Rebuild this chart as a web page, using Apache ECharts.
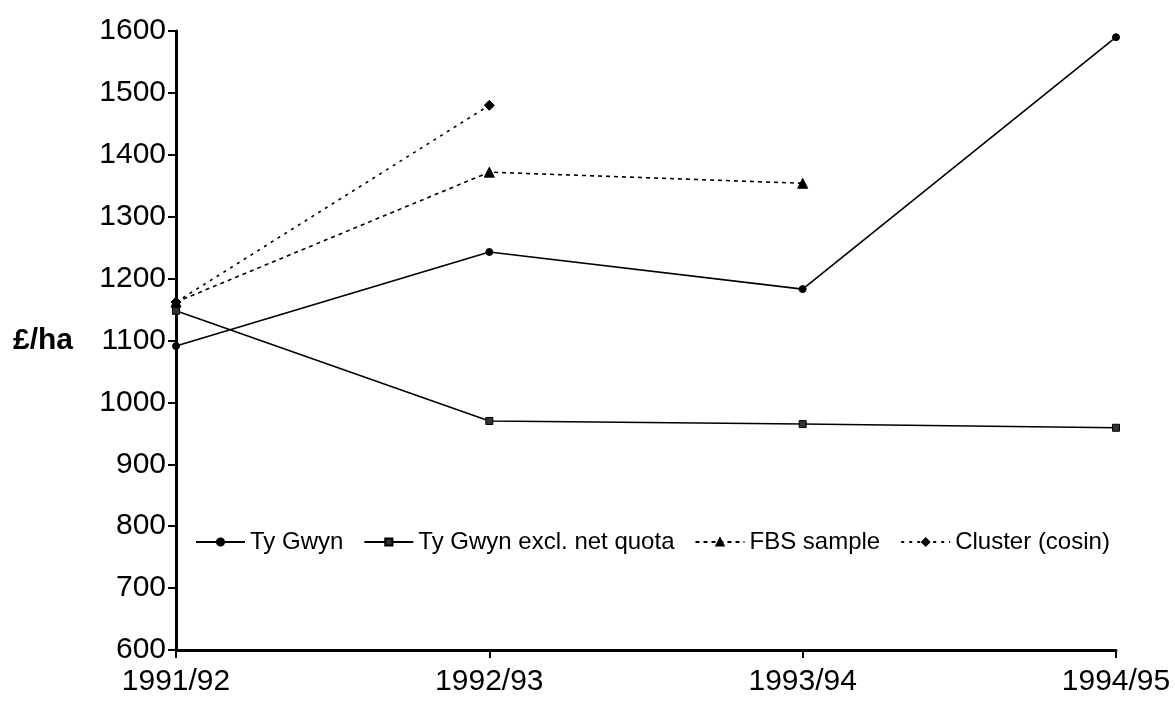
<!DOCTYPE html>
<html>
<head>
<meta charset="utf-8">
<script src="https://cdn.jsdelivr.net/npm/echarts@6/dist/echarts.min.js"></script>
<style>html,body{margin:0;padding:0;background:#fff}#c{width:1175px;height:708px}</style>
</head>
<body>
<div id="c"></div>
<script>
var categories = ['1991/92', '1992/93', '1993/94', '1994/95'];
var tyGwyn = [1091, 1243, 1183, 1590];
var tyGwynExcl = [1148, 970, 965, 959];
var fbsSample = [1162, 1372, 1354, null];
var cluster = [1162, 1480, null, null];
var seriesNames = ['Ty Gwyn', 'Ty Gwyn excl. net quota', 'FBS sample', 'Cluster (cosin)'];
var yAxisName = '£/ha';

var font = 'Liberation Sans, Arial, sans-serif';
var chart = echarts.init(document.getElementById('c'));
function mk(name, data, symbol, size, dash, fill) {
  return {
    name: name, type: 'line', data: data, symbol: symbol, symbolSize: size,
    showSymbol: true, connectNulls: false,
    lineStyle: { color: '#000', width: 1.6, type: dash },
    itemStyle: { color: fill || '#000', borderColor: '#000', borderWidth: 1 },
    emphasis: { disabled: true }
  };
}
chart.setOption({
  animation: false,
  backgroundColor: '#fff',
  grid: { left: 176, right: 59, top: 31, bottom: 58, containLabel: false },
  legend: {
    left: 190, top: 525, itemWidth: 49, itemHeight: 9, itemGap: 20,
    textStyle: { fontFamily: font, fontSize: 24, color: '#000' },
    data: seriesNames
  },
  xAxis: {
    type: 'category', data: categories, boundaryGap: false,
    axisLine: { lineStyle: { color: '#000', width: 3 } },
    axisTick: { show: true, alignWithLabel: true, length: 8, lineStyle: { color: '#000', width: 2 } },
    axisLabel: { color: '#000', fontFamily: font, fontSize: 30, margin: 17 },
    splitLine: { show: false }
  },
  yAxis: {
    type: 'value', min: 600, max: 1600, interval: 100,
    name: yAxisName, nameLocation: 'middle', nameRotate: 0, nameGap: 103,
    nameTextStyle: { color: '#000', fontFamily: font, fontSize: 30, fontWeight: 'bold', align: 'right', verticalAlign: 'middle' },
    axisLine: { show: true, lineStyle: { color: '#000', width: 3 } },
    axisTick: { show: true, length: 8, lineStyle: { color: '#000', width: 2 } },
    axisLabel: { color: '#000', fontFamily: font, fontSize: 30, margin: 10, formatter: function (v) { return String(v); } },
    splitLine: { show: false }
  },
  series: [
    mk(seriesNames[0], tyGwyn, 'circle', 7, 'solid'),
    mk(seriesNames[1], tyGwynExcl, 'rect', 7, 'solid', '#333'),
    mk(seriesNames[2], fbsSample, 'triangle', 10, [4, 4]),
    mk(seriesNames[3], cluster, 'diamond', 10, [3, 5])
  ]
});
</script>
</body>
</html>
